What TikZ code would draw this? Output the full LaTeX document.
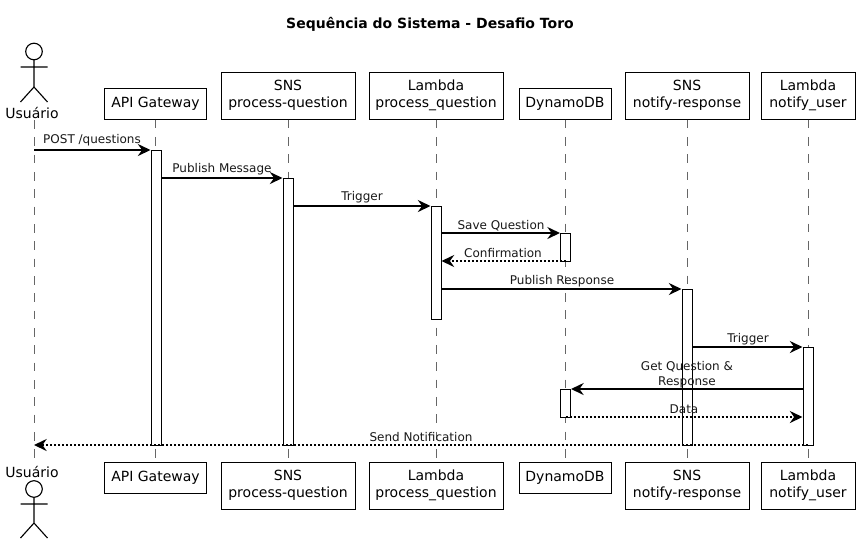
\documentclass[tikz,border=0pt]{standalone}
\usepackage{fontspec}
\setmainfont{DejaVu Sans}
\usetikzlibrary{arrows.meta}
\tikzset{
  x=0.75pt,y=-0.75pt,
  partbox/.style={draw=black,line width=0.75pt,fill=white,inner sep=0pt,align=center,font=\fontsize{10.5pt}{12.4pt}\selectfont,minimum height=23.25pt},
  tallbox/.style={partbox,minimum height=35.25pt},
  actorlabel/.style={inner sep=0pt,font=\fontsize{10.5pt}{12.4pt}\selectfont},
  actorline/.style={line width=0.85pt,black},
  lifeline/.style={draw=black!60,line width=0.6pt,dash pattern=on 6.5pt off 6.5pt},
  activation/.style={draw=black,line width=0.75pt,fill=white,inner sep=0pt,minimum width=7.5pt},
  tipsolid/.style={-{Stealth[length=9.5pt,width=9pt,inset=3.2pt]}},
  msg/.style={tipsolid,line width=1.5pt,black},
  reply/.style={tipsolid,line width=1.5pt,black,dash pattern=on 1.5pt off 1.5pt},
  msglabel/.style={inner sep=0pt,align=center,font=\fontsize{9pt}{10.9pt}\selectfont,text=black!90},
  title/.style={inner sep=0pt,font=\bfseries\fontsize{10.5pt}{12pt}\selectfont}
}
\newcommand{\stickman}[4]{% x, head y, arm y, hip y
  \draw[actorline] (#1,#2) circle[radius=8.3];
  \draw[actorline] (#1,#2+8.3) -- (#1,#4) (#1-13.5,#3) -- (#1+13.5,#3)
    (#1-13.5,#4+15) -- (#1,#4) -- (#1+13.5,#4+15);
}
\begin{document}
\begin{tikzpicture}
\useasboundingbox[fill=white] (0,0) rectangle (859,544);
\node[title] (ttl) at (430,24.5) {Sequência do Sistema - Desafio Toro};
% participants, top
\node[actorlabel] (ut) at (32,112.5) {Usuário};
\node[partbox,minimum width=77pt] (at) at (155.5,103.5) {API Gateway};
\node[tallbox,minimum width=100.5pt] (st) at (288,95.5) {SNS\\process-question};
\node[tallbox,minimum width=100.5pt] (lt) at (436,95.5) {Lambda\\process\_question};
\node[partbox,minimum width=69pt] (dt) at (565,103.5) {DynamoDB};
\node[tallbox,minimum width=93pt] (nt) at (687,95.5) {SNS\\notify-response};
\node[tallbox,minimum width=70.5pt] (ut2) at (808,95.5) {Lambda\\notify\_user};
% participants, bottom
\node[actorlabel] (ub) at (32,472) {Usuário};
\node[partbox,minimum width=77pt] (ab) at (155.5,477.5) {API Gateway};
\node[tallbox,minimum width=100.5pt] (sb) at (288,485.5) {SNS\\process-question};
\node[tallbox,minimum width=100.5pt] (lb) at (436,485.5) {Lambda\\process\_question};
\node[partbox,minimum width=69pt] (db) at (565,477.5) {DynamoDB};
\node[tallbox,minimum width=93pt] (nb) at (687,485.5) {SNS\\notify-response};
\node[tallbox,minimum width=70.5pt] (ub2) at (808,485.5) {Lambda\\notify\_user};
% actor figures
\stickman{34}{51.5}{67}{87}
\stickman{34}{489}{504}{523}
% lifelines
\coordinate (u1) at (34,120);
\coordinate (u2) at (34,463);
\draw[lifeline] (u1) -- (u2);
\draw[lifeline] (at) -- (ab);
\draw[lifeline] (st) -- (sb);
\draw[lifeline] (lt) -- (lb);
\draw[lifeline] (dt) -- (db);
\draw[lifeline] (nt) -- (nb);
\draw[lifeline] (ut2) -- (ub2);
% activations
\node[activation,minimum height=221.25pt] (aa) at (156,297.5) {};
\node[activation,minimum height=200.25pt] (as) at (288,311.5) {};
\node[activation,minimum height=84.75pt] (al) at (436,262.5) {};
\node[activation,minimum height=21pt] (ad1) at (565.5,247) {};
\node[activation,minimum height=21pt] (ad2) at (565.5,403) {};
\node[activation,minimum height=117pt] (an) at (687,367) {};
\node[activation,minimum height=73.5pt] (au) at (808,396) {};
% message rows
\coordinate (r1) at (0,150);
\coordinate (r2) at (0,178);
\coordinate (r3) at (0,206);
\coordinate (r4) at (0,233);
\coordinate (r5) at (0,261);
\coordinate (r6) at (0,289);
\coordinate (r7) at (0,347);
\coordinate (r8) at (0,389);
\coordinate (r9) at (0,417);
\coordinate (r10) at (0,445);
\coordinate (m1s) at (34,150);
\coordinate (m5s) at (565.5,261);
\coordinate (m9s) at (565.5,417);
\coordinate (m10s) at (808,445);
\coordinate (m10e) at (34,445);
% messages
\draw[msg] (m1s) -- (aa.west |- r1);
\node[msglabel] (t1) at (92,140.5) {POST /questions};
\draw[msg] (aa.east |- r2) -- (as.west |- r2);
\node[msglabel] (t2) at (222,169.5) {Publish Message};
\draw[msg] (as.east |- r3) -- (al.west |- r3);
\node[msglabel] (t3) at (362,197.5) {Trigger};
\draw[msg] (al.east |- r4) -- (ad1.west |- r4);
\node[msglabel] (t4) at (501,225.5) {Save Question};
\draw[reply] (m5s) -- (al.east |- r5);
\node[msglabel] (t5) at (503,253.5) {Confirmation};
\draw[msg] (al.east |- r6) -- (an.west |- r6);
\node[msglabel] (t6) at (562,281.5) {Publish Response};
\draw[msg] (an.east |- r7) -- (au.west |- r7);
\node[msglabel] (t7) at (748,339.5) {Trigger};
\draw[msg] (au.west |- r8) -- (ad2.east |- r8);
\node[msglabel] (t8) at (687,374.5) {Get Question \&\\Response};
\draw[reply] (m9s) -- (au.west |- r9);
\node[msglabel] (t9) at (684,409.5) {Data};
\draw[reply] (m10s) -- (m10e);
\node[msglabel] (t10) at (421,437.5) {Send Notification};
\end{tikzpicture}
\end{document}
